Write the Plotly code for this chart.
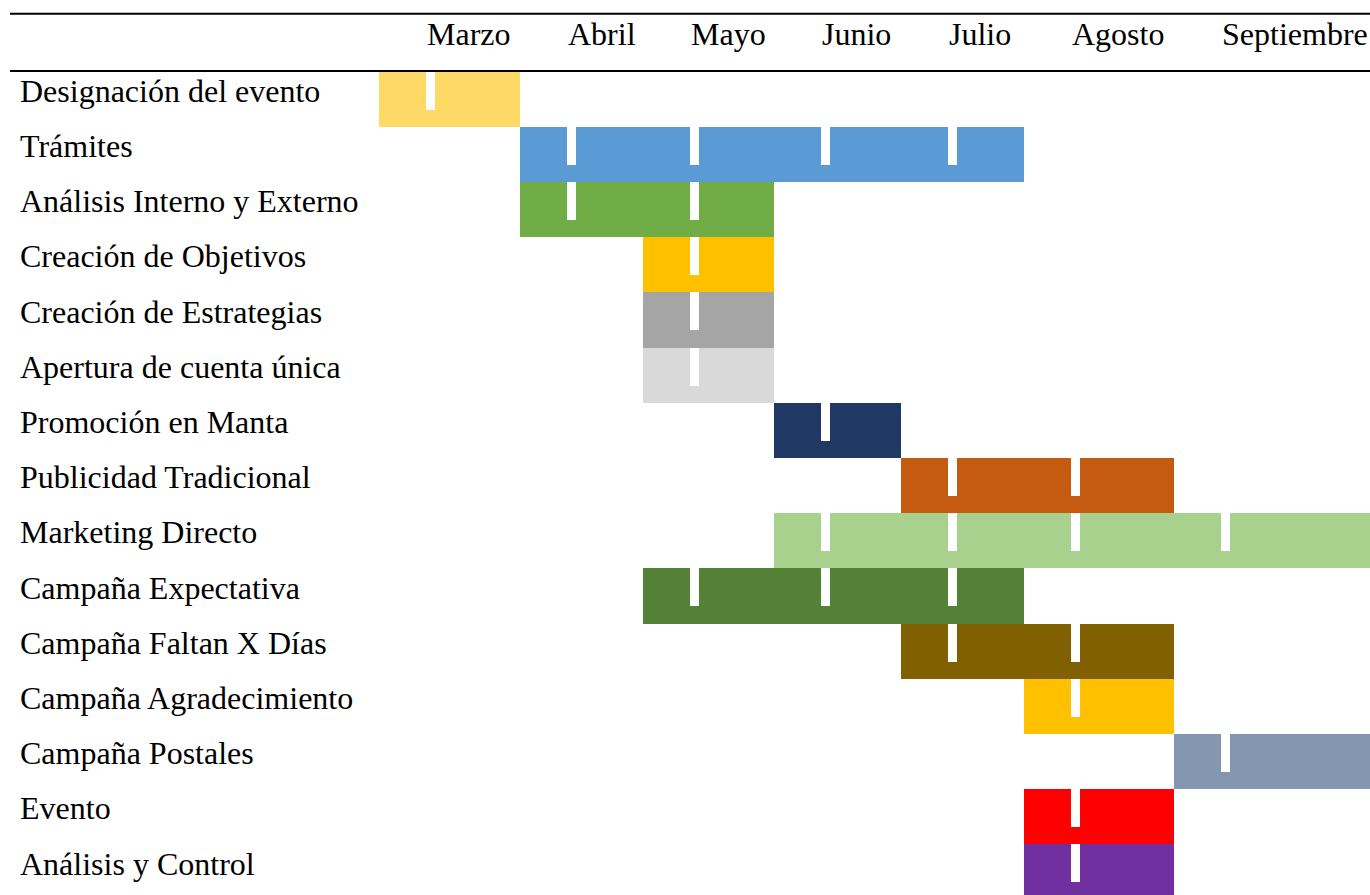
import plotly.graph_objects as go

# ---- data ----
months = ["Marzo", "Abril", "Mayo", "Junio", "Julio", "Agosto", "Septiembre"]
tasks = [
    "Designación del evento",
    "Trámites",
    "Análisis Interno y Externo",
    "Creación de Objetivos",
    "Creación de Estrategias",
    "Apertura de cuenta única",
    "Promoción en Manta",
    "Publicidad Tradicional",
    "Marketing Directo",
    "Campaña Expectativa",
    "Campaña Faltan X Días",
    "Campaña Agradecimiento",
    "Campaña Postales",
    "Evento",
    "Análisis y Control",
]
start_month = [0, 1, 1, 2, 2, 2, 3, 4, 3, 2, 4, 5, 6, 5, 5]
end_month = [0, 4, 2, 2, 2, 2, 3, 5, 6, 4, 5, 5, 6, 5, 5]
colors = ["#FFD966", "#5B9BD5", "#70AD47", "#FFC000", "#A5A5A5", "#D9D9D9",
          "#203864", "#C55A11", "#A9D18E", "#538135", "#806000", "#FFC000",
          "#8497B0", "#FF0000", "#7030A0"]

# ---- layout constants (pixel-like x units) ----
COL_EDGES = [379, 520, 643, 774, 901, 1024, 1174, 1370]
NOTCH_OFF = 47
NOTCH_W = 9
ROW_H = 55.2
ROW0_TOP = 71.5
W, H = 1370, 895
FONT = "Liberation Serif, Times New Roman, serif"
FS = 32


def py(pix):
    return -0.5 + (pix - ROW0_TOP) / ROW_H


fig = go.Figure()

rows = list(range(len(tasks)))
fig.add_trace(go.Bar(
    orientation="h",
    y=rows,
    base=[COL_EDGES[s] for s in start_month],
    x=[COL_EDGES[e + 1] - COL_EDGES[s] for s, e in zip(start_month, end_month)],
    width=1.0,
    marker=dict(color=colors, line=dict(width=0)),
    hoverinfo="skip",
    showlegend=False,
))

# notches (one per month covered)
ny, nb = [], []
for i, (s, e) in enumerate(zip(start_month, end_month)):
    for m in range(s, e + 1):
        ny.append(i)
        nb.append(COL_EDGES[m] + NOTCH_OFF)
fig.add_trace(go.Bar(
    orientation="h",
    y=ny,
    base=nb,
    x=[NOTCH_W] * len(ny),
    width=38 / ROW_H,
    offset=-0.5,
    marker=dict(color="white", line=dict(width=0)),
    hoverinfo="skip",
    showlegend=False,
))

annotations = []
for i, t in enumerate(tasks):
    annotations.append(dict(
        x=18.5, y=i - 0.5 + 19.3 / ROW_H, xref="x", yref="y", text=t,
        showarrow=False, xanchor="left", yanchor="middle", borderpad=0,
        font=dict(family=FONT, size=FS, color="black"),
    ))
for m, name in enumerate(months):
    annotations.append(dict(
        x=COL_EDGES[m] + 46.5, y=py(34.2), xref="x", yref="y", text=name,
        showarrow=False, xanchor="left", yanchor="middle", borderpad=0,
        font=dict(family=FONT, size=FS, color="black"),
    ))

shapes = [
    dict(type="line", xref="x", yref="y", x0=10, x1=W, y0=py(13.7), y1=py(13.7),
         line=dict(color="black", width=2)),
    dict(type="line", xref="x", yref="y", x0=10, x1=W, y0=py(71), y1=py(71),
         line=dict(color="black", width=2)),
]

fig.update_layout(
    width=W, height=H,
    margin=dict(l=0, r=0, t=0, b=0),
    paper_bgcolor="white", plot_bgcolor="white",
    barmode="overlay", bargap=0,
    xaxis=dict(range=[0, W], visible=False, fixedrange=True),
    yaxis=dict(range=[py(H), py(0)], visible=False, fixedrange=True),
    annotations=annotations,
    shapes=shapes,
    showlegend=False,
)

fig.write_html("out.html", config={"displayModeBar": False})
